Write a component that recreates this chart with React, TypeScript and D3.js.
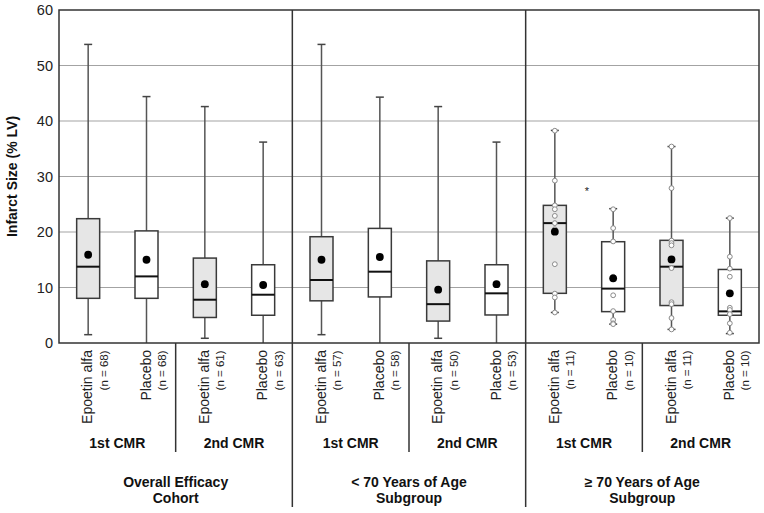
import React from "react";
import * as d3 from "d3";

// ---- data ----
const panels = [
  ["Overall Efficacy", "Cohort"],
  ["< 70 Years of Age", "Subgroup"],
  ["≥ 70 Years of Age", "Subgroup"],
];
const cmrLabels = ["1st CMR", "2nd CMR"];
const treatments = ["Epoetin alfa", "Placebo", "Epoetin alfa", "Placebo"];
const nValues = [68, 68, 61, 63, 57, 58, 50, 53, 11, 10, 11, 10];
const whiskerLow = [1.5, 0, 0.85, 0, 1.5, 0, 0.85, 0, 5.5, 3.4, 2.45, 1.7];
const q1 = [8.05, 8.05, 4.6, 5.0, 7.6, 8.3, 3.95, 5.05, 8.95, 5.65, 6.75, 5.0];
const median = [13.75, 12.0, 7.8, 8.7, 11.35, 12.85, 7.0, 8.95, 21.6, 9.8, 13.75, 5.7];
const q3 = [22.4, 20.2, 15.3, 14.1, 19.15, 20.65, 14.8, 14.1, 24.8, 18.25, 18.5, 13.25];
const whiskerHigh = [53.8, 44.4, 42.6, 36.2, 53.8, 44.3, 42.6, 36.2, 38.3, 24.2, 35.4, 22.5];
const means = [15.9, 15.0, 10.6, 10.45, 15.0, 15.5, 9.6, 10.6, 20.05, 11.65, 15.05, 8.95];
// individual observations shown for the >= 70 subgroup (box index 8..11)
const points9 = [38.25, 29.25, 24.8, 24.1, 22.9, 21.6, 20.5, 14.2, 8.9, 8.2, 5.5];
const points10 = [24.1, 20.7, 18.3, 11.95, 11.5, 8.6, 5.75, 4.15, 3.55, 3.4];
const points11 = [35.4, 27.9, 18.45, 18.0, 17.6, 13.5, 7.35, 7.0, 4.5, 2.45];
const points12 = [22.5, 15.55, 13.4, 11.95, 6.35, 5.95, 5.2, 3.55, 1.85];
const pointSets: Record<number, number[]> = { 8: points9, 9: points10, 10: points11, 11: points12 };
const yTicks = [0, 10, 20, 30, 40, 50, 60];
const asterisk = { box: 9.05, value: 27.4 };

const W = 764;
const H = 513;
const left = 59;
const right = 759;
const top = 10;
const bottom = 343;
const font = "'Liberation Sans', Arial, sans-serif";

export default function App() {
  const idx = d3.range(12);
  const x = d3.scaleBand<number>().domain(idx).range([left, right]).paddingInner(0).paddingOuter(0);
  const y = d3.scaleLinear().domain([0, 60]).range([bottom, top]);
  const bw = x.bandwidth();
  const cx = (i: number) => (x(i) as number) + bw / 2;
  const boxW = 23;
  const capW = 8;
  const stroke = "#3a3a3a";

  return (
    <svg width={W} height={H} style={{ position: "absolute", left: 0, top: 0, background: "#fff" }} fontFamily={font}>
      {/* grid */}
      {yTicks.filter((t) => t > 0 && t < 60).map((t) => (
        <line key={"g" + t} x1={left} x2={right} y1={y(t)} y2={y(t)} stroke="#a3a3a3" strokeWidth={1} />
      ))}
      {/* y tick labels */}
      {yTicks.map((t) => (
        <text key={"yt" + t} x={53} y={y(t)} textAnchor="end" dominantBaseline="central" fontSize={14.5} fill="#222">
          {t}
        </text>
      ))}
      <text
        transform={`translate(12,${(top + bottom) / 2}) rotate(-90)`}
        textAnchor="middle"
        dominantBaseline="central"
        fontSize={14}
        fontWeight="bold"
        fill="#111"
      >
        Infarct Size (% LV)
      </text>

      {/* boxes */}
      {idx.map((i) => {
        const c = cx(i);
        const fill = i % 2 === 0 ? "#e6e6e6" : "#ffffff";
        const pts = pointSets[i] || [];
        return (
          <g key={"b" + i}>
            <line x1={c} x2={c} y1={y(whiskerHigh[i])} y2={y(whiskerLow[i])} stroke="#555" strokeWidth={1.5} />
            <line x1={c - capW / 2} x2={c + capW / 2} y1={y(whiskerHigh[i])} y2={y(whiskerHigh[i])} stroke="#444" strokeWidth={1.5} />
            {whiskerLow[i] > 0 && (
              <line x1={c - capW / 2} x2={c + capW / 2} y1={y(whiskerLow[i])} y2={y(whiskerLow[i])} stroke="#444" strokeWidth={1.5} />
            )}
            <rect
              x={c - boxW / 2}
              y={y(q3[i])}
              width={boxW}
              height={y(q1[i]) - y(q3[i])}
              fill={fill}
              stroke={stroke}
              strokeWidth={1.5}
            />
            <line x1={c - boxW / 2} x2={c + boxW / 2} y1={y(median[i])} y2={y(median[i])} stroke="#111" strokeWidth={2} />
            {pts.map((v, k) => (
              <circle key={k} cx={c} cy={y(v)} r={2.4} fill="#fff" stroke="#8a8a8a" strokeWidth={1} />
            ))}
            <circle cx={c} cy={y(means[i])} r={3.9} fill="#000" />
          </g>
        );
      })}

      {/* asterisk */}
      <text x={left + asterisk.box * bw} y={y(asterisk.value)} textAnchor="middle" dominantBaseline="central" fontSize={11} fill="#222">
        *
      </text>

      {/* frame */}
      <rect x={left} y={top} width={right - left} height={bottom - top} fill="none" stroke="#333" strokeWidth={1.5} />
      {[1, 2].map((p) => (
        <line key={"pd" + p} x1={x(p * 4) as number} x2={x(p * 4) as number} y1={top} y2={507} stroke="#333" strokeWidth={1.5} />
      ))}
      {[0, 1, 2].map((p) => (
        <line key={"sd" + p} x1={x(p * 4 + 2) as number} x2={x(p * 4 + 2) as number} y1={bottom} y2={452} stroke="#333" strokeWidth={1.5} />
      ))}

      {/* x labels */}
      {idx.map((i) => {
        const c = cx(i);
        return (
          <g key={"xl" + i}>
            <text transform={`translate(${c - 1},350) rotate(-90)`} textAnchor="end" dominantBaseline="central" fontSize={14} fill="#222">
              {treatments[i % 4]}
            </text>
            <text transform={`translate(${c + 15.5},350.5) rotate(-90)`} textAnchor="end" dominantBaseline="central" fontSize={11.5} fill="#222">
              {`(n = ${nValues[i]})`}
            </text>
          </g>
        );
      })}
      {[0, 1, 2].map((p) =>
        cmrLabels.map((lab, k) => {
          const c = ((x(p * 4 + k * 2) as number) + (x(p * 4 + k * 2 + 1) as number) + bw) / 2;
          return (
            <text key={"cmr" + p + k} x={c} y={443} textAnchor="middle" dominantBaseline="central" fontSize={14} fontWeight="bold" fill="#111">
              {lab}
            </text>
          );
        })
      )}
      {panels.map((lines, p) => {
        const c = (x(p * 4) as number) + 2 * bw;
        return lines.map((ln, k) => (
          <text key={"pl" + p + k} x={c} y={481.5 + k * 16.5} textAnchor="middle" dominantBaseline="central" fontSize={14} fontWeight="bold" fill="#111">
            {ln}
          </text>
        ));
      })}
    </svg>
  );
}
